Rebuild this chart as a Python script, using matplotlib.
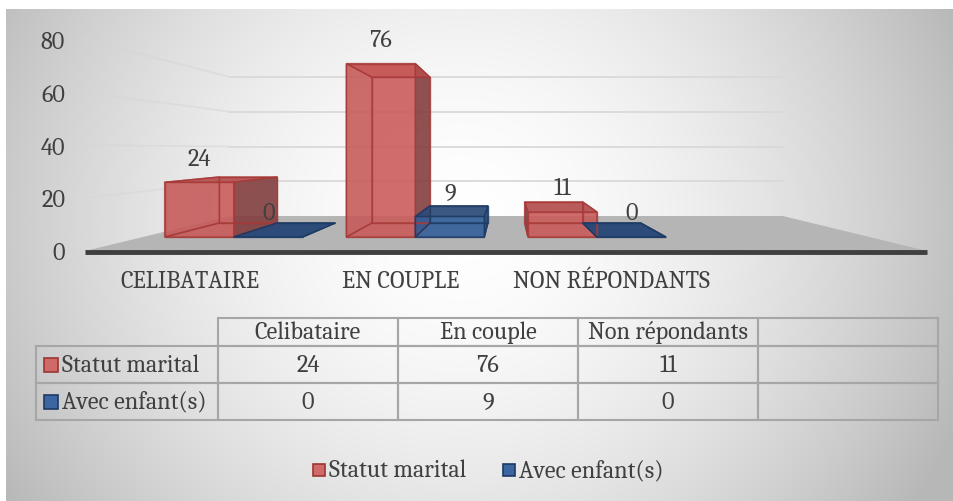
import numpy as np
import matplotlib.pyplot as plt
from matplotlib.patches import Polygon, Rectangle

# données du graphique
categories = ['Celibataire', 'En couple', 'Non répondants']
series_names = ['Statut marital', 'Avec enfant(s)']
statut_marital = [24, 76, 11]
avec_enfants = [0, 9, 0]
y_ticks = [0, 20, 40, 60, 80]

plt.rcParams['font.family'] = ['Caladea', 'DejaVu Serif']
TXT = '#404040'
FS = 17.5

W, H = 954, 502
fig = plt.figure(figsize=(W / 100, H / 100), dpi=100)
ax = fig.add_axes([0, 0, 1, 1])

# fond en dégradé radial
yy, xx = np.mgrid[10:H, 6:W]
d = np.hypot((xx - 460) / 470, (yy - 220) / 450)
g = 1 - 0.22 * np.clip(d, 0, 1.15) ** 1.7
ax.imshow(np.dstack([g, g, g]), extent=(6, W, H, 10), zorder=0,
          interpolation='bilinear', aspect='auto')
ax.set_xlim(0, W)
ax.set_ylim(H, 0)
ax.axis('off')

# projection en perspective (point de fuite)
VPX, VPY = 507, 150
FLOOR_Y = 252
PPU = 2.645          # pixels par unité au plan avant
X0, X1 = 85, 927     # bords du sol
K_BACK = 0.657       # profondeur du mur du fond
K_F, K_B = 0.863, 0.725  # profondeur avant / arrière des barres
n_slots = len(categories) + 1
slot_w = (X1 - X0) / n_slots
bar_w = 80


def proj(X, k, v):
    return (VPX + k * (X - VPX), VPY + k * (FLOOR_Y - v * PPU - VPY))


# sol
floor = [proj(X0, 1, 0), proj(X1, 1, 0), proj(X1, K_BACK, 0), proj(X0, K_BACK, 0)]
ax.add_patch(Polygon(floor, closed=True, fc='#b5b5b5', ec='none', zorder=1))
p0, p1 = proj(X0, 1, 0), proj(X1, 1, 0)
ax.plot([p0[0], p1[0]], [p0[1] + 1, p1[1] + 1], color='#3f3f3f', lw=3.5,
        solid_capstyle='butt', zorder=2)

# quadrillage (mur gauche + mur du fond)
for v in y_ticks[1:]:
    a, b, c = proj(X0, 1, v), proj(X0, K_BACK, v), proj(X1, K_BACK, v)
    ax.plot([a[0], b[0]], [a[1], b[1]], color='#d6d6d6', lw=1.3, alpha=0.55, zorder=1)
    ax.plot([b[0], c[0]], [b[1], c[1]], color='#d9d9d9', lw=1.3, zorder=1)

for v in y_ticks:
    ax.text(65, proj(X0, 1, v)[1] + 2, str(v), ha='right', va='center',
            fontsize=FS, color=TXT)


def box(xa, xb, v, front, side, top, edge):
    A, B = proj(xa, K_F, 0), proj(xb, K_F, 0)
    C, D = proj(xb, K_F, v), proj(xa, K_F, v)
    A2, B2 = proj(xa, K_B, 0), proj(xb, K_B, 0)
    C2, D2 = proj(xb, K_B, v), proj(xa, K_B, v)
    right_vis = (xa + xb) / 2 < VPX
    faces = [
        ([A2, B2, C2, D2], front, 0.25),
        ([A, B, B2, A2], top, 0.9 if v == 0 else 0.25),
        ([A, D, D2, A2], side, 0.25 if right_vis else 0.85),
        ([B, C, C2, B2], side, 0.85 if right_vis else 0.25),
        ([D, C, C2, D2], top, 0.9),
        ([A, B, C, D], front, 0.85),
    ]
    for pts, fc, al in faces:
        ax.add_patch(Polygon(pts, closed=True, fc=fc, alpha=al, ec='none', zorder=3))
        ax.add_patch(Polygon(pts, closed=True, fill=False, ec=edge, lw=1.0,
                             alpha=0.8, zorder=4))


styles = [
    dict(front='#c95b5a', side='#7e3a3a', top='#b44e4d', edge='#a63a38'),
    dict(front='#32609c', side='#22406c', top='#2b4a78', edge='#1f3b66'),
]
for s, vals in enumerate([statut_marital, avec_enfants]):
    for i, v in enumerate(vals):
        xc = X0 + slot_w * (i + 0.5)
        xa = xc - bar_w + s * bar_w
        box(xa, xa + bar_w, v, **styles[s])
        lx, ly = proj(xa + bar_w / 2, K_F, v)
        ax.text(lx, ly - 24, str(v), ha='center', va='center', fontsize=FS,
                color=TXT, zorder=6)

for i, cat in enumerate(categories):
    xc = X0 + slot_w * (i + 0.5)
    ax.text(xc, 282, cat.upper(), ha='center', va='center', fontsize=FS, color=TXT)

# tableau de données
col_x = [218 + 180 * j for j in range(n_slots + 1)]
row_y = [319, 347, 384, 421]
lab_x0 = 36
tcol = '#a6a6a6'
for j in range(n_slots):
    for r in range(3):
        ax.add_patch(Rectangle((col_x[j], row_y[r]), 180, row_y[r + 1] - row_y[r],
                               fill=False, ec=tcol, lw=1.5, zorder=5))
for r in range(1, 3):
    ax.add_patch(Rectangle((lab_x0, row_y[r]), col_x[0] - lab_x0, row_y[r + 1] - row_y[r],
                           fill=False, ec=tcol, lw=1.5, zorder=5))

for j, cat in enumerate(categories):
    cx = col_x[j] + 90
    ax.text(cx, (row_y[0] + row_y[1]) / 2, cat, ha='center', va='center',
            fontsize=FS, color=TXT)
    for r, vals in enumerate([statut_marital, avec_enfants]):
        ax.text(cx, (row_y[r + 1] + row_y[r + 2]) / 2, str(vals[j]), ha='center',
                va='center', fontsize=FS, color=TXT)

mk_fc = ['#d06a69', '#3c66a2']
mk_ec = ['#9c3533', '#1f3864']
for r, name in enumerate(series_names):
    ym = (row_y[r + 1] + row_y[r + 2]) / 2
    ax.add_patch(Rectangle((44, ym - 7), 14, 14, fc=mk_fc[r], ec=mk_ec[r], lw=1.2, zorder=6))
    ax.text(62, ym, name, ha='left', va='center', fontsize=FS, color=TXT)

# légende
leg_x = [313, 503]
for r, name in enumerate(series_names):
    ax.add_patch(Rectangle((leg_x[r], 465), 12, 12, fc=mk_fc[r], ec=mk_ec[r], lw=1.2, zorder=6))
    ax.text(leg_x[r] + 16, 471, name, ha='left', va='center', fontsize=FS, color=TXT)

fig.savefig('out.png', dpi=100)
